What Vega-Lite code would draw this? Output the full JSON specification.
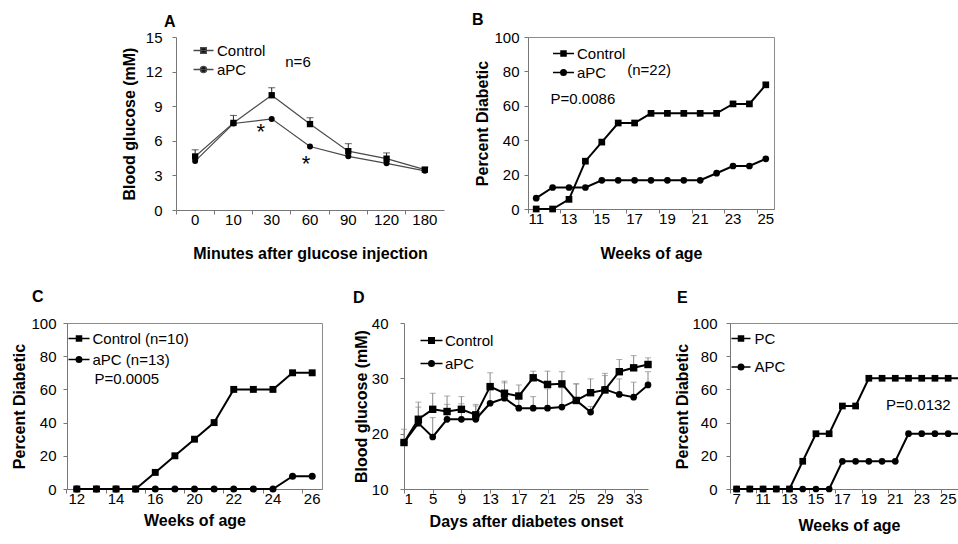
{
  "$schema": "https://vega.github.io/schema/vega-lite/v6.json",
  "background": "white",
  "padding": {"left": 11, "top": 11, "right": 0, "bottom": 0},
  "config": {
    "font": "Liberation Sans",
    "view": {"stroke": "#8c8c8c"},
    "axis": {"grid": false, "labelFontSize": 15, "labelColor": "#000", "titleFontSize": 16, "titleFontWeight": "bold", "titleColor": "#000", "domainColor": "#777", "tickColor": "#777", "tickSize": 4, "labelAngle": 0, "labelOverlap": false, "labelBound": false},
    "axisX": {"labelPadding": -2},
    "legend": {"title": null, "labelFontSize": 15, "labelColor": "#000", "symbolSize": 100, "labelOffset": 6, "orient": "none", "padding": 0},
    "title": {"fontSize": 16, "fontWeight": "bold", "anchor": "start", "frame": "group", "color": "#000"}
  },
  "bounds": "flush",
  "spacing": 286,
  "resolve": {"scale": {"shape": "independent"}, "legend": {"shape": "independent"}},
  "vconcat": [
    {
      "bounds": "flush",
      "spacing": 84,
      "resolve": {"scale": {"shape": "independent"}, "legend": {"shape": "independent"}},
      "hconcat": [
        {"width": 25, "height": 20, "view": {"stroke": null}, "data": {"values": []}, "mark": "point"},
        {
          "width": 268, "height": 173,
          "view": {"stroke": null},
          "title": {"text": "A", "dx": -12, "offset": 0},
          "data": {"values": [
            {"s": "Control", "x": 0, "y": 4.64, "hi": 5.22},
            {"s": "Control", "x": 10, "y": 7.55, "hi": 8.2},
            {"s": "Control", "x": 30, "y": 9.95, "hi": 10.6},
            {"s": "Control", "x": 60, "y": 7.45, "hi": 8.0},
            {"s": "Control", "x": 90, "y": 5.1, "hi": 5.75},
            {"s": "Control", "x": 120, "y": 4.45, "hi": 4.95},
            {"s": "Control", "x": 180, "y": 3.5, "hi": 3.7},
            {"s": "aPC", "x": 0, "y": 4.24},
            {"s": "aPC", "x": 10, "y": 7.5},
            {"s": "aPC", "x": 30, "y": 7.9},
            {"s": "aPC", "x": 60, "y": 5.5},
            {"s": "aPC", "x": 90, "y": 4.65},
            {"s": "aPC", "x": 120, "y": 4.05},
            {"s": "aPC", "x": 180, "y": 3.4}
          ]},
          "encoding": {
            "x": {"field": "x", "type": "ordinal", "scale": {"type": "band", "domain": [0, 10, 30, 60, 90, 120, 180], "paddingInner": 0, "paddingOuter": 0}, "axis": {"title": "Minutes after glucose injection", "bandPosition": 0, "titlePadding": 18}},
            "y": {"field": "y", "type": "quantitative", "scale": {"domain": [0, 15], "nice": false}, "axis": {"values": [0, 3, 6, 9, 12, 15], "title": "Blood glucose (mM)", "labelPadding": 10, "titlePadding": 8}}
          },
          "layer": [
            {"transform": [{"filter": "isValid(datum.hi)"}], "mark": {"type": "rule", "color": "#222", "strokeWidth": 1}, "encoding": {"y2": {"field": "hi"}}},
            {"transform": [{"filter": "isValid(datum.hi)"}], "mark": {"type": "tick", "orient": "horizontal", "size": 7, "thickness": 1, "color": "#222"}, "encoding": {"y": {"field": "hi", "type": "quantitative"}}},
            {"mark": {"type": "line", "color": "#4a4a4a", "strokeWidth": 1.2}, "encoding": {"detail": {"field": "s"}}},
            {"transform": [{"filter": "datum.s === 'Control'"}], "mark": {"type": "point", "shape": "square", "filled": true, "opacity": 1, "color": "#000", "size": 40}},
            {"transform": [{"filter": "datum.s === 'aPC'"}], "mark": {"type": "point", "shape": "circle", "filled": true, "opacity": 1, "color": "#000", "size": 36}},
            {"transform": [{"filter": "false"}], "mark": {"type": "point", "filled": true, "opacity": 1, "color": "#000", "stroke": "#4a4a4a", "strokeWidth": 1, "size": 100},
              "encoding": {"shape": {"field": "s", "type": "nominal", "scale": {"domain": ["Control", "aPC"], "range": ["M-2,0H2M-0.55,-0.55H0.55V0.55H-0.55Z", "M-2,0H2M0.6,0A0.6,0.6,0,1,1,-0.6,0A0.6,0.6,0,1,1,0.6,0Z"]},
              "legend": {"legendX": 20, "legendY": 6, "rowPadding": 3}}}},
            {"data": {"values": [{"x": 60, "y": 12.8, "t": "n=6"}]}, "mark": {"type": "text", "dx": -12, "fontSize": 15, "color": "#000"}, "encoding": {"text": {"field": "t"}}},
            {"data": {"values": [{"x": 30, "y": 6.76, "t": "*"}]}, "mark": {"type": "text", "dx": -11, "fontSize": 22, "color": "#000"}, "encoding": {"text": {"field": "t"}}},
            {"data": {"values": [{"x": 60, "y": 3.97, "t": "*"}]}, "mark": {"type": "text", "dx": -4, "fontSize": 22, "color": "#000"}, "encoding": {"text": {"field": "t"}}}
          ]
        },
        {
          "width": 246, "height": 172,
          "title": {"text": "B", "dx": -56, "offset": 2},
          "data": {"values": [
            {"s": "Control", "x": 11, "y": 0}, {"s": "Control", "x": 12, "y": 0}, {"s": "Control", "x": 13, "y": 5.6},
            {"s": "Control", "x": 14, "y": 27.8}, {"s": "Control", "x": 15, "y": 38.9}, {"s": "Control", "x": 16, "y": 50},
            {"s": "Control", "x": 17, "y": 50}, {"s": "Control", "x": 18, "y": 55.6}, {"s": "Control", "x": 19, "y": 55.6},
            {"s": "Control", "x": 20, "y": 55.6}, {"s": "Control", "x": 21, "y": 55.6}, {"s": "Control", "x": 22, "y": 55.6},
            {"s": "Control", "x": 23, "y": 61.1}, {"s": "Control", "x": 24, "y": 61.1}, {"s": "Control", "x": 25, "y": 72.2},
            {"s": "aPC", "x": 11, "y": 6.3}, {"s": "aPC", "x": 12, "y": 12.5}, {"s": "aPC", "x": 13, "y": 12.5},
            {"s": "aPC", "x": 14, "y": 12.5}, {"s": "aPC", "x": 15, "y": 16.7}, {"s": "aPC", "x": 16, "y": 16.7},
            {"s": "aPC", "x": 17, "y": 16.7}, {"s": "aPC", "x": 18, "y": 16.7}, {"s": "aPC", "x": 19, "y": 16.7},
            {"s": "aPC", "x": 20, "y": 16.7}, {"s": "aPC", "x": 21, "y": 16.7}, {"s": "aPC", "x": 22, "y": 20.8},
            {"s": "aPC", "x": 23, "y": 25}, {"s": "aPC", "x": 24, "y": 25}, {"s": "aPC", "x": 25, "y": 29.2}
          ]},
          "encoding": {
            "x": {"field": "x", "type": "ordinal", "scale": {"type": "band", "domain": [11, 12, 13, 14, 15, 16, 17, 18, 19, 20, 21, 22, 23, 24, 25], "paddingInner": 0, "paddingOuter": 0}, "axis": {"title": "Weeks of age", "values": [11, 13, 15, 17, 19, 21, 23, 25], "bandPosition": 0, "titlePadding": 19}},
            "y": {"field": "y", "type": "quantitative", "scale": {"domain": [0, 100], "nice": false}, "axis": {"values": [0, 20, 40, 60, 80, 100], "title": "Percent Diabetic", "labelPadding": 5, "titlePadding": 3}}
          },
          "layer": [
            {"mark": {"type": "line", "color": "#000", "strokeWidth": 2}, "encoding": {"detail": {"field": "s"}}},
            {"transform": [{"filter": "datum.s === 'Control'"}], "mark": {"type": "point", "shape": "square", "filled": true, "opacity": 1, "color": "#000", "size": 45}},
            {"transform": [{"filter": "datum.s === 'aPC'"}], "mark": {"type": "point", "shape": "circle", "filled": true, "opacity": 1, "color": "#000", "size": 45}},
            {"transform": [{"filter": "false"}], "mark": {"type": "point", "filled": true, "opacity": 1, "color": "#000", "stroke": "#000", "strokeWidth": 2, "size": 100},
              "encoding": {"shape": {"field": "s", "type": "nominal", "scale": {"domain": ["Control", "aPC"], "range": ["M-2.1,0H2.1M-0.5,-0.5H0.5V0.5H-0.5Z", "M-2.1,0H2.1M0.55,0A0.55,0.55,0,1,1,-0.55,0A0.55,0.55,0,1,1,0.55,0Z"]},
              "legend": {"legendX": 28, "legendY": 9, "rowPadding": 3}}}},
            {"data": {"values": [{"x": 16, "y": 80.8, "t": "(n=22)"}]}, "mark": {"type": "text", "align": "left", "dx": 9, "fontSize": 15, "color": "#000"}, "encoding": {"text": {"field": "t"}}},
            {"data": {"values": [{"x": 12, "y": 64, "t": "P=0.0086"}]}, "mark": {"type": "text", "align": "left", "dx": -2, "fontSize": 15, "color": "#000"}, "encoding": {"text": {"field": "t"}}}
          ]
        }
      ]
    },
    {
      "bounds": "flush",
      "spacing": 82,
      "resolve": {"scale": {"shape": "independent"}, "legend": {"shape": "independent"}},
      "hconcat": [
        {
          "width": 255, "height": 166,
          "title": {"text": "C", "dx": -35, "offset": 11},
          "data": {"values": [
            {"s": "Control (n=10)", "x": 12, "y": 0}, {"s": "Control (n=10)", "x": 13, "y": 0}, {"s": "Control (n=10)", "x": 14, "y": 0},
            {"s": "Control (n=10)", "x": 15, "y": 0}, {"s": "Control (n=10)", "x": 16, "y": 10}, {"s": "Control (n=10)", "x": 18, "y": 20},
            {"s": "Control (n=10)", "x": 20, "y": 30}, {"s": "Control (n=10)", "x": 21, "y": 40}, {"s": "Control (n=10)", "x": 22, "y": 60},
            {"s": "Control (n=10)", "x": 23, "y": 60}, {"s": "Control (n=10)", "x": 24, "y": 60}, {"s": "Control (n=10)", "x": 25, "y": 70},
            {"s": "Control (n=10)", "x": 26, "y": 70},
            {"s": "aPC   (n=13)", "x": 12, "y": 0}, {"s": "aPC   (n=13)", "x": 13, "y": 0}, {"s": "aPC   (n=13)", "x": 14, "y": 0},
            {"s": "aPC   (n=13)", "x": 15, "y": 0}, {"s": "aPC   (n=13)", "x": 16, "y": 0}, {"s": "aPC   (n=13)", "x": 18, "y": 0},
            {"s": "aPC   (n=13)", "x": 20, "y": 0}, {"s": "aPC   (n=13)", "x": 21, "y": 0}, {"s": "aPC   (n=13)", "x": 22, "y": 0},
            {"s": "aPC   (n=13)", "x": 23, "y": 0}, {"s": "aPC   (n=13)", "x": 24, "y": 0}, {"s": "aPC   (n=13)", "x": 25, "y": 7.7},
            {"s": "aPC   (n=13)", "x": 26, "y": 7.7}
          ]},
          "encoding": {
            "x": {"field": "x", "type": "ordinal", "scale": {"type": "band", "domain": [12, 13, 14, 15, 16, 18, 20, 21, 22, 23, 24, 25, 26], "paddingInner": 0, "paddingOuter": 0}, "axis": {"title": "Weeks of age", "bandPosition": 0, "titlePadding": 6, "labelExpr": "indexof([12, 14, 16, 20, 22, 24, 26], datum.value) >= 0 ? datum.label : ''", "tickOpacity": {"condition": {"test": "indexof([12, 14, 16, 20, 22, 24, 26], datum.value) >= 0", "value": 1}, "value": 0}}},
            "y": {"field": "y", "type": "quantitative", "scale": {"domain": [0, 100], "nice": false}, "axis": {"values": [0, 20, 40, 60, 80, 100], "title": "Percent Diabetic", "labelPadding": 7, "titlePadding": 3}}
          },
          "layer": [
            {"mark": {"type": "line", "color": "#000", "strokeWidth": 2}, "encoding": {"detail": {"field": "s"}}},
            {"transform": [{"filter": "datum.s === 'Control (n=10)'"}], "mark": {"type": "point", "shape": "square", "filled": true, "opacity": 1, "color": "#000", "size": 48}},
            {"transform": [{"filter": "datum.s !== 'Control (n=10)'"}], "mark": {"type": "point", "shape": "circle", "filled": true, "opacity": 1, "color": "#000", "size": 50}},
            {"transform": [{"filter": "false"}], "mark": {"type": "point", "filled": true, "opacity": 1, "color": "#000", "stroke": "#000", "strokeWidth": 2, "size": 100},
              "encoding": {"shape": {"field": "s", "type": "nominal", "scale": {"domain": ["Control (n=10)", "aPC   (n=13)"], "range": ["M-2.1,0H2.1M-0.5,-0.5H0.5V0.5H-0.5Z", "M-2.1,0H2.1M0.55,0A0.55,0.55,0,1,1,-0.55,0A0.55,0.55,0,1,1,0.55,0Z"]},
              "legend": {"legendX": 4.5, "legendY": 8, "rowPadding": 5}}}},
            {"data": {"values": [{"x": 13, "y": 66.3, "t": "P=0.0005"}]}, "mark": {"type": "text", "align": "left", "dx": -2, "fontSize": 15, "color": "#000"}, "encoding": {"text": {"field": "t"}}}
          ]
        },
        {
          "width": 244, "height": 166,
          "view": {"stroke": null},
          "title": {"text": "D", "dx": -51, "offset": 10},
          "data": {"values": [
            {"s": "Control", "x": 1, "y": 18.4, "hi": 20.8}, {"s": "Control", "x": 3, "y": 22.6, "hi": 25.7},
            {"s": "Control", "x": 5, "y": 24.4, "hi": 27.3}, {"s": "Control", "x": 7, "y": 24.0, "hi": 26.8},
            {"s": "Control", "x": 9, "y": 24.4, "hi": 26.7}, {"s": "Control", "x": 11, "y": 23.4, "hi": 25.3},
            {"s": "Control", "x": 13, "y": 28.5, "hi": 31.0}, {"s": "Control", "x": 15, "y": 27.3, "hi": 29.5},
            {"s": "Control", "x": 17, "y": 26.8, "hi": 28.8}, {"s": "Control", "x": 19, "y": 30.1, "hi": 31.3},
            {"s": "Control", "x": 21, "y": 28.9, "hi": 31.3}, {"s": "Control", "x": 23, "y": 29.0, "hi": 31.2},
            {"s": "Control", "x": 25, "y": 26.0, "hi": 29.0}, {"s": "Control", "x": 27, "y": 27.4, "hi": 29.9},
            {"s": "Control", "x": 29, "y": 27.9, "hi": 30.9}, {"s": "Control", "x": 31, "y": 31.2, "hi": 33.4},
            {"s": "Control", "x": 33, "y": 31.9, "hi": 34.1}, {"s": "Control", "x": 35, "y": 32.5, "hi": 33.7},
            {"s": "aPC", "x": 1, "y": 18.4}, {"s": "aPC", "x": 3, "y": 21.9, "hi": 24.8},
            {"s": "aPC", "x": 5, "y": 19.4, "hi": 22.9}, {"s": "aPC", "x": 7, "y": 22.6, "hi": 25.3},
            {"s": "aPC", "x": 9, "y": 22.6, "hi": 25.4}, {"s": "aPC", "x": 11, "y": 22.6, "hi": 25.0},
            {"s": "aPC", "x": 13, "y": 25.5, "hi": 28.5}, {"s": "aPC", "x": 15, "y": 26.4, "hi": 29.2},
            {"s": "aPC", "x": 17, "y": 24.6, "hi": 26.5}, {"s": "aPC", "x": 19, "y": 24.6, "hi": 26.7},
            {"s": "aPC", "x": 21, "y": 24.6, "hi": 28.1}, {"s": "aPC", "x": 23, "y": 24.8, "hi": 28.3},
            {"s": "aPC", "x": 25, "y": 26.0, "hi": 29.0}, {"s": "aPC", "x": 27, "y": 23.9, "hi": 24.9},
            {"s": "aPC", "x": 29, "y": 28.0, "hi": 30.5}, {"s": "aPC", "x": 31, "y": 27.1, "hi": 29.9},
            {"s": "aPC", "x": 33, "y": 26.6, "hi": 29.3}, {"s": "aPC", "x": 35, "y": 28.8, "hi": 31.2}
          ]},
          "encoding": {
            "x": {"field": "x", "type": "quantitative", "scale": {"domain": [1, 35], "nice": false, "zero": false}, "axis": {"title": "Days after diabetes onset", "values": [1, 5, 9, 13, 17, 21, 25, 29, 33], "titlePadding": 7}},
            "y": {"field": "y", "type": "quantitative", "scale": {"domain": [10, 40], "nice": false, "zero": false}, "axis": {"values": [10, 20, 30, 40], "title": "Blood glucose (mM)", "labelPadding": 12, "titlePadding": 2}}
          },
          "layer": [
            {"transform": [{"filter": "isValid(datum.hi)"}], "mark": {"type": "rule", "color": "#888", "strokeWidth": 1}, "encoding": {"y2": {"field": "hi"}}},
            {"transform": [{"filter": "isValid(datum.hi)"}], "mark": {"type": "tick", "orient": "horizontal", "size": 6, "thickness": 1, "color": "#888"}, "encoding": {"y": {"field": "hi", "type": "quantitative"}}},
            {"mark": {"type": "line", "color": "#000", "strokeWidth": 2}, "encoding": {"detail": {"field": "s"}}},
            {"transform": [{"filter": "datum.s === 'Control'"}], "mark": {"type": "point", "shape": "square", "filled": true, "opacity": 1, "color": "#000", "size": 55}},
            {"transform": [{"filter": "datum.s === 'aPC'"}], "mark": {"type": "point", "shape": "circle", "filled": true, "opacity": 1, "color": "#000", "size": 45}},
            {"transform": [{"filter": "false"}], "mark": {"type": "point", "filled": true, "opacity": 1, "color": "#000", "stroke": "#000", "strokeWidth": 2, "size": 100},
              "encoding": {"shape": {"field": "s", "type": "nominal", "scale": {"domain": ["Control", "aPC"], "range": ["M-2.2,0H2.2M-0.55,-0.55H0.55V0.55H-0.55Z", "M-2.2,0H2.2M0.55,0A0.55,0.55,0,1,1,-0.55,0A0.55,0.55,0,1,1,0.55,0Z"]},
              "legend": {"legendX": 20, "legendY": 10, "rowPadding": 7}}}}
          ]
        },
        {
          "width": 238, "height": 166,
          "title": {"text": "E", "dx": -53, "offset": 10},
          "data": {"values": [
            {"s": "PC", "x": 7, "y": 0}, {"s": "PC", "x": 9, "y": 0}, {"s": "PC", "x": 11, "y": 0}, {"s": "PC", "x": 12, "y": 0},
            {"s": "PC", "x": 13, "y": 0}, {"s": "PC", "x": 14, "y": 16.7}, {"s": "PC", "x": 15, "y": 33.3}, {"s": "PC", "x": 16, "y": 33.3},
            {"s": "PC", "x": 17, "y": 50}, {"s": "PC", "x": 18, "y": 50}, {"s": "PC", "x": 19, "y": 66.7}, {"s": "PC", "x": 20, "y": 66.7},
            {"s": "PC", "x": 21, "y": 66.7}, {"s": "PC", "x": 22, "y": 66.7}, {"s": "PC", "x": 23, "y": 66.7}, {"s": "PC", "x": 24, "y": 66.7},
            {"s": "PC", "x": 25, "y": 66.7}, {"s": "PC", "x": 26, "y": 66.7},
            {"s": "APC", "x": 7, "y": 0}, {"s": "APC", "x": 9, "y": 0}, {"s": "APC", "x": 11, "y": 0}, {"s": "APC", "x": 12, "y": 0},
            {"s": "APC", "x": 13, "y": 0}, {"s": "APC", "x": 14, "y": 0}, {"s": "APC", "x": 15, "y": 0}, {"s": "APC", "x": 16, "y": 0},
            {"s": "APC", "x": 17, "y": 16.7}, {"s": "APC", "x": 18, "y": 16.7}, {"s": "APC", "x": 19, "y": 16.7}, {"s": "APC", "x": 20, "y": 16.7},
            {"s": "APC", "x": 21, "y": 16.7}, {"s": "APC", "x": 22, "y": 33.3}, {"s": "APC", "x": 23, "y": 33.3}, {"s": "APC", "x": 24, "y": 33.3},
            {"s": "APC", "x": 25, "y": 33.3}, {"s": "APC", "x": 26, "y": 33.3}
          ]},
          "encoding": {
            "x": {"field": "x", "type": "ordinal", "scale": {"type": "band", "domain": [7, 9, 11, 12, 13, 14, 15, 16, 17, 18, 19, 20, 21, 22, 23, 24, 25, 26], "paddingInner": 0, "paddingOuter": 0}, "axis": {"title": "Weeks of age", "values": [7, 11, 13, 15, 17, 19, 21, 23, 25], "bandPosition": 0, "titlePadding": 11}},
            "y": {"field": "y", "type": "quantitative", "scale": {"domain": [0, 100], "nice": false}, "axis": {"values": [0, 20, 40, 60, 80, 100], "title": "Percent Diabetic", "labelPadding": 9, "titlePadding": 1}}
          },
          "layer": [
            {"mark": {"type": "line", "color": "#000", "strokeWidth": 2}, "encoding": {"detail": {"field": "s"}}},
            {"transform": [{"filter": "datum.s === 'PC'"}], "mark": {"type": "point", "shape": "square", "filled": true, "opacity": 1, "color": "#000", "size": 45}},
            {"transform": [{"filter": "datum.s === 'APC'"}], "mark": {"type": "point", "shape": "circle", "filled": true, "opacity": 1, "color": "#000", "size": 45}},
            {"transform": [{"filter": "false"}], "mark": {"type": "point", "filled": true, "opacity": 1, "color": "#000", "stroke": "#000", "strokeWidth": 2, "size": 100},
              "encoding": {"shape": {"field": "s", "type": "nominal", "scale": {"domain": ["PC", "APC"], "range": ["M-1.9,0H1.9M-0.5,-0.5H0.5V0.5H-0.5Z", "M-1.9,0H1.9M0.55,0A0.55,0.55,0,1,1,-0.55,0A0.55,0.55,0,1,1,0.55,0Z"]},
              "legend": {"legendX": 3.5, "legendY": 8, "rowPadding": 12.5}}}},
            {"data": {"values": [{"x": 20, "y": 50.6, "t": "P=0.0132"}]}, "mark": {"type": "text", "align": "left", "dx": 4, "fontSize": 15, "color": "#000"}, "encoding": {"text": {"field": "t"}}}
          ]
        }
      ]
    }
  ]
}
